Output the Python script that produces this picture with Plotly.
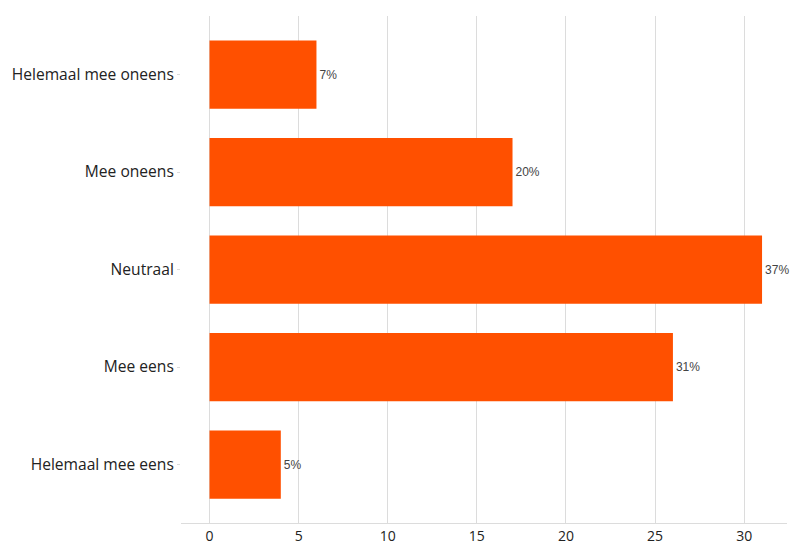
import plotly.graph_objects as go

categories = ["Helemaal mee eens", "Mee eens", "Neutraal", "Mee oneens", "Helemaal mee oneens"]
counts = [4, 26, 31, 17, 6]
labels = ["5%", "31%", "37%", "20%", "7%"]

fig = go.Figure(go.Bar(
    y=categories, x=counts, orientation="h",
    marker=dict(color="#ff5000", line=dict(width=0)),
    width=0.7,
    text=labels, textposition="outside",
    textfont=dict(family="Liberation Sans, Arial", size=12, color="#444"),
    cliponaxis=False,
))

fig.update_layout(
    width=791, height=545,
    margin=dict(l=181, r=4, t=16, b=22, autoexpand=False),
    plot_bgcolor="white", paper_bgcolor="white",
    showlegend=False,
    font=dict(family="Open Sans", color="#222"),
    xaxis=dict(range=[-1.6, 32.4], tickvals=[0, 5, 10, 15, 20, 25, 30],
               showgrid=True, gridcolor="#dcdcdc", gridwidth=1,
               zeroline=False, showline=True, linecolor="#dcdcdc",
               tickfont=dict(size=14, color="#222"), ticks="", automargin=False),
    yaxis=dict(range=[-0.6, 4.6], showgrid=False, zeroline=False,
               ticks="outside", ticklen=3, tickcolor="#dcdcdc",
               tickfont=dict(size=15.6, color="#222"), automargin=False),
)

fig.write_html("out.html", config={"displayModeBar": False},
               post_script="document.body.style.margin='0';document.body.style.overflow='hidden';document.documentElement.style.overflow='hidden';")
